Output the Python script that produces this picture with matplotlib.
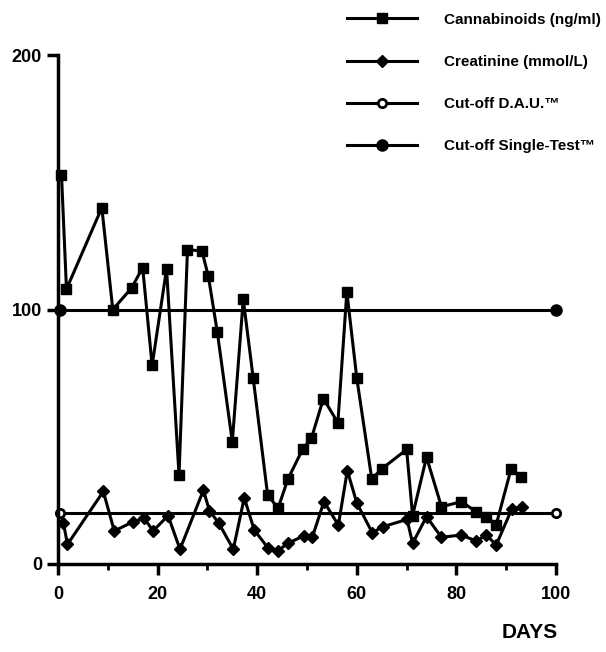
import matplotlib.pyplot as plt
from matplotlib.ticker import MultipleLocator

plt.rcParams['font.family'] = ['Liberation Sans', 'DejaVu Sans']

# cannabinoids (ng/ml)
cann_days = [0.7, 1.7, 8.8, 11, 14.8, 17, 18.9, 21.8, 24.3, 26, 28.9, 30.2, 32,
             35, 37.2, 39.2, 42.1, 44.2, 46.2, 49.1, 50.9, 53.3, 56.2, 58, 60,
             63, 65.1, 70, 71.2, 74, 77, 81, 84, 86, 88, 91, 93]
cann_vals = [153, 108, 140, 100, 108.5, 116.5, 78, 116, 35, 123.5, 123, 113, 91,
             48, 104, 73, 27, 22, 33.5, 45, 49.5, 65, 55.5, 107, 73,
             33.5, 37.5, 45, 19, 42, 22.5, 24.5, 20.5, 18.5, 15.5, 37.5, 34]

# creatinine (mmol/L)
crea_days = [1.1, 1.9, 9.1, 11.3, 15, 17.3, 19.1, 22.1, 24.5, 29.2, 30.4, 32.3,
             35.2, 37.4, 39.4, 42.2, 44.1, 46.2, 49.3, 51.1, 53.4, 56.3, 58.1, 60,
             63.1, 65.3, 70.1, 71.2, 74, 77, 81, 84, 86, 88, 91.1, 93.1]
crea_vals = [16, 7.7, 28.5, 13, 16.5, 18, 13, 19, 5.8, 29, 21, 16, 5.8, 26,
             13.4, 6.2, 5.1, 8.2, 11, 10.7, 24.5, 15.3, 36.7, 24,
             12.3, 14.7, 17.5, 8.1, 18.6, 10.5, 11.4, 9, 11.4, 7.5, 21.5, 22.5]

cutoff_days = [0.5, 100]
dau_cutoff = [20, 20]
single_cutoff = [100, 100]

fig = plt.figure(figsize=(6.06, 6.52), dpi=100)
ax = fig.add_axes([58 / 606, 1 - 564 / 652, 498 / 606, 509 / 652])

lw = 2.2
ax.plot(cann_days, cann_vals, color='black', lw=lw, marker='s', ms=7,
        mfc='black', mec='black', label='Cannabinoids (ng/ml)', clip_on=False)
ax.plot(crea_days, crea_vals, color='black', lw=lw, marker='D', ms=6,
        mfc='black', mec='black', label='Creatinine (mmol/L)', clip_on=False)
ax.plot(cutoff_days, dau_cutoff, color='black', lw=lw, marker='o', ms=6,
        mfc='white', mec='black', mew=2, label='Cut-off D.A.U.™', clip_on=False)
ax.plot(cutoff_days, single_cutoff, color='black', lw=lw, marker='o', ms=8,
        mfc='black', mec='black', label='Cut-off Single-Test™', clip_on=False)

ax.set_xlim(0, 100)
ax.set_ylim(0, 200)
ax.spines['top'].set_visible(False)
ax.spines['right'].set_visible(False)
ax.spines['left'].set_linewidth(2.5)
ax.spines['bottom'].set_linewidth(2.5)
ax.set_xticks([0, 20, 40, 60, 80, 100])
ax.xaxis.set_minor_locator(MultipleLocator(10))
ax.set_yticks([0, 100, 200])
ax.tick_params(axis='both', which='major', length=8, width=2.5, labelsize=13)
ax.tick_params(axis='x', which='minor', length=4, width=2)
for lab in ax.get_xticklabels() + ax.get_yticklabels():
    lab.set_fontweight('bold')
ax.tick_params(axis='x', pad=8)

fig.legend(loc='upper right', bbox_to_anchor=(1.01, 0.997), frameon=False,
           prop={'size': 11, 'weight': 'bold'}, handlelength=4.6,
           labelspacing=1.85, handletextpad=1.8, borderaxespad=0.3)

fig.text(530 / 606, 1 - 633 / 652, 'DAYS', ha='center', va='center',
         fontsize=15, fontweight='bold')

fig.savefig('out.png', dpi=100)
